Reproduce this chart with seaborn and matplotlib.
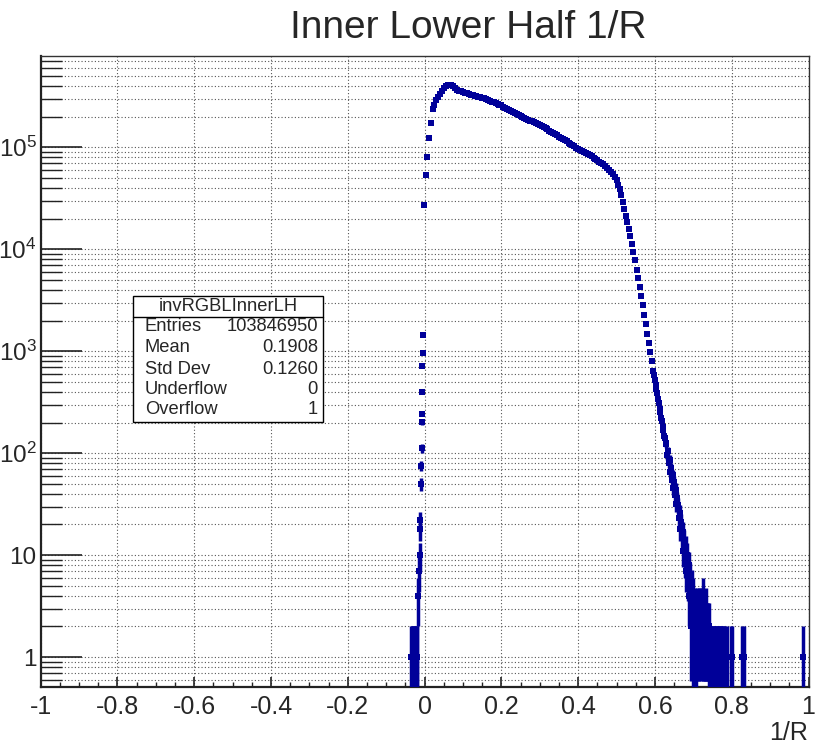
import numpy as np
import pandas as pd
import matplotlib
matplotlib.use("Agg")
import matplotlib.pyplot as plt
from matplotlib.patches import Rectangle
from matplotlib.lines import Line2D
import seaborn as sns

# ---- histogram contents: bin centre (1/R) and entries ----
x_rise = [-0.035, -0.033, -0.031, -0.029, -0.027, -0.025, -0.023, -0.021, -0.019,
          -0.017, -0.015, -0.013, -0.012, -0.011, -0.010, -0.009, -0.008, -0.0075,
          -0.007, -0.006, -0.0055, -0.005, -0.004, -0.002, 0.0026, 0.0068, 0.011,
          0.0156, 0.0216]
n_rise = [1, 1, 1, 1, 1, 1, 1, 1, 1,
          4, 7, 10, 18, 22, 50, 75, 112, 204,
          245, 400, 710, 970, 1450, 27000, 54000, 81000, 123000,
          172000, 236000]

x_body = [0.025, 0.030, 0.035, 0.040, 0.045, 0.050, 0.055, 0.060, 0.065, 0.070,
          0.075, 0.080, 0.085, 0.090, 0.095, 0.100, 0.105, 0.110, 0.115, 0.120,
          0.125, 0.130, 0.135, 0.140, 0.145, 0.150, 0.155, 0.160, 0.165, 0.170,
          0.175, 0.180, 0.185, 0.190, 0.195, 0.200, 0.205, 0.210, 0.215, 0.220,
          0.225, 0.230, 0.235, 0.240, 0.245, 0.250, 0.255, 0.260, 0.265, 0.270,
          0.275, 0.280, 0.285, 0.290, 0.295, 0.300, 0.305, 0.310, 0.315, 0.320,
          0.325, 0.330, 0.335, 0.340, 0.345, 0.350, 0.355, 0.360, 0.365, 0.370,
          0.375, 0.380, 0.385, 0.390, 0.395, 0.400, 0.405, 0.410, 0.415, 0.420,
          0.425, 0.430, 0.435, 0.440, 0.445, 0.450, 0.455, 0.460, 0.465, 0.470,
          0.475, 0.480, 0.485, 0.490, 0.495, 0.500, 0.505]
n_body = [257000, 288000, 309000, 331000, 355000, 380000, 398000, 407000, 412000, 407000,
          398000, 380000, 367000, 359000, 355000, 347000, 343000, 339000, 331000, 327000,
          324000, 320000, 316000, 313000, 309000, 305000, 301000, 295000, 290000, 285000,
          281000, 275000, 270000, 266000, 262000, 257000, 251000, 245000, 240000, 234000,
          226000, 221000, 216000, 211000, 207000, 202000, 198000, 195000, 191000, 186000,
          183000, 179000, 175000, 172000, 168000, 164000, 160000, 157000, 153000, 150000,
          146000, 142000, 138000, 134000, 131000, 127000, 124000, 121000, 117000, 114000,
          111000, 108000, 105000, 102000, 98900, 96200, 94000, 91600, 89500, 87500,
          85500, 83400, 81300, 79100, 76900, 74500, 72400, 70100, 67900, 65800,
          63100, 60300, 57500, 55000, 51300, 47900, 42700]

x_fall = [0.508, 0.512, 0.516, 0.520, 0.524, 0.528, 0.532, 0.536, 0.540, 0.544,
          0.548, 0.552, 0.556, 0.560, 0.564, 0.568, 0.572, 0.576, 0.580, 0.584,
          0.588, 0.592, 0.596, 0.598, 0.600, 0.602, 0.604, 0.606, 0.608, 0.610,
          0.612, 0.614, 0.616, 0.618, 0.620, 0.622, 0.624, 0.626, 0.628, 0.630,
          0.632, 0.634, 0.636, 0.638, 0.640, 0.642, 0.644, 0.646, 0.648, 0.650,
          0.652, 0.654, 0.656, 0.658]
n_fall = [38900, 33900, 28800, 25100, 21400, 18600, 15800, 13500, 11200, 9330,
          7760, 6310, 5250, 4270, 3470, 2820, 2290, 1860, 1480, 1200,
          977, 794, 646, 590, 525, 470, 430, 392, 340, 312,
          270, 251, 219, 205, 180, 170, 146, 140, 123, 125,
          96, 104, 80, 86, 66, 72, 55, 61, 46, 52,
          39, 44, 32, 36]

x_tail = [0.660, 0.662, 0.664, 0.666, 0.668, 0.670, 0.672, 0.674, 0.676, 0.678,
          0.680, 0.682, 0.684, 0.686, 0.688, 0.690, 0.692, 0.694, 0.696, 0.698,
          0.700, 0.702, 0.704, 0.706, 0.708, 0.710, 0.712, 0.714, 0.716, 0.718,
          0.720, 0.722, 0.724, 0.726, 0.728, 0.730, 0.732, 0.734, 0.736, 0.738,
          0.740, 0.742, 0.744, 0.746, 0.748, 0.750, 0.752, 0.754, 0.756, 0.758,
          0.760, 0.762, 0.764, 0.766, 0.768, 0.770, 0.772, 0.774, 0.776, 0.778,
          0.783, 0.787, 0.798, 0.801, 0.828, 0.831, 0.985]
n_tail = [31, 23, 26, 18, 21, 15, 17, 11, 14, 9,
          12, 7, 10, 6, 8, 4, 6, 2, 5, 1,
          4, 1, 3, 2, 1, 3, 2, 3, 2, 3,
          2, 3, 2, 4, 2, 2, 3, 2, 2, 2,
          1, 2, 1, 1, 1, 1, 1, 1, 1, 1,
          1, 1, 1, 1, 1, 1, 1, 1, 1, 1,
          1, 1, 1, 1, 1, 1, 1]

bin_width = 0.002

stats_title = "invRGBLInnerLH"
stats_names = ["Entries", "Mean", "Std Dev", "Underflow", "Overflow"]
stats_values = ["103846950", "0.1908", "0.1260", "0", "1"]

x_ticks = [-1, -0.8, -0.6, -0.4, -0.2, 0, 0.2, 0.4, 0.6, 0.8, 1]
x_ticklabels = ["-1", "-0.8", "-0.6", "-0.4", "-0.2", "0", "0.2", "0.4", "0.6", "0.8", "1"]
y_ticks = [1, 10, 100, 1000, 10000, 100000]
y_ticklabels = ["1", "10", r"$\mathregular{10^{2}}$", r"$\mathregular{10^{3}}$",
                r"$\mathregular{10^{4}}$", r"$\mathregular{10^{5}}$"]

# ---- assemble ----
hist = pd.DataFrame({
    "x": np.concatenate([x_rise, x_body, x_fall, x_tail]),
    "n": np.concatenate([n_rise, n_body, n_fall, n_tail]).astype(float),
})
ymin, ymax = 0.51, 7.85e5
err = np.sqrt(hist["n"].to_numpy())
low = hist["n"].to_numpy() - np.maximum(hist["n"].to_numpy() - err, 0.3)

sns.set_style("white")
plt.rcParams["font.family"] = ["Liberation Sans", "DejaVu Sans"]
plt.rcParams["mathtext.fontset"] = "custom"
plt.rcParams["mathtext.rm"] = "Liberation Sans"

fig = plt.figure(figsize=(8.17, 7.46), dpi=100)
ax = fig.add_axes([0.0498, 0.0791, 0.9398, 0.8458])
ax.set_yscale("log")
ax.set_xlim(-1, 1)
ax.set_ylim(ymin, ymax)

hist_color = "#000099"
ax.errorbar(hist["x"], hist["n"], xerr=bin_width / 2, yerr=[low, err],
            fmt="none", ecolor=hist_color, elinewidth=2.5, capsize=0, zorder=3)
sns.scatterplot(data=hist, x="x", y="n", ax=ax, marker="s", s=13, color=hist_color,
                edgecolor=hist_color, linewidth=0, zorder=4, legend=False)

# grid: major x, every decade step on y
grid_kw = dict(color="#555555", linestyle=(0, (1, 2)), linewidth=0.8)
ax.set_xticks(x_ticks)
ax.set_xticklabels(x_ticklabels)
ax.set_xticks(np.arange(-1, 1.0001, 0.05), minor=True)
ax.set_yticks(y_ticks)
ax.set_yticklabels(y_ticklabels)
ax.yaxis.set_minor_locator(matplotlib.ticker.LogLocator(base=10, subs=np.arange(2, 10)))
ax.yaxis.set_minor_formatter(matplotlib.ticker.NullFormatter())
ax.grid(True, which="major", axis="x", **grid_kw)
ax.grid(True, which="both", axis="y", **grid_kw)
ax.set_axisbelow(True)

ax.tick_params(axis="x", which="major", direction="in", length=7.2, width=1.2,
               labelsize=18, pad=6, bottom=True, top=False, color="#222222")
ax.tick_params(axis="x", which="minor", direction="in", length=3.6, width=1.0,
               bottom=True, top=False, color="#222222")
ax.tick_params(axis="y", which="major", direction="in", length=29.5, width=1.2,
               labelsize=17.5, pad=3, left=True, right=False, color="#222222")
ax.tick_params(axis="y", which="minor", direction="in", length=15, width=1.0,
               left=True, right=False, color="#222222")
for side in ["left", "bottom"]:
    ax.spines[side].set_linewidth(1.6)
    ax.spines[side].set_color("#222222")
for side in ["top", "right"]:
    ax.spines[side].set_linewidth(1.0)
    ax.spines[side].set_color("#333333")
ax.set_xlabel("")
ax.set_ylabel("")

fig.text(0.573, 0.962, "Inner Lower Half 1/R", ha="center", va="center", fontsize=28)
fig.text(0.989, 0.017, "1/R", ha="right", va="center", fontsize=18)

# statistics box
bx0, bx1 = 133 / 817, 323 / 817
by0, by1 = 1 - 421.5 / 746, 1 - 295.5 / 746
fig.patches.append(Rectangle((bx0, by0), bx1 - bx0, by1 - by0, transform=fig.transFigure,
                             facecolor="white", edgecolor="black", linewidth=1.0, zorder=10))
sep_y = 1 - 316.5 / 746
fig.lines.append(Line2D([bx0, bx1], [sep_y, sep_y], transform=fig.transFigure,
                        color="black", linewidth=1.0, zorder=11))
fig.text((bx0 + bx1) / 2, 1 - 306 / 746, stats_title, ha="center", va="center",
         fontsize=13.2, zorder=12)
row_y = [327, 348, 369, 389.5, 410]
for name, val, yy in zip(stats_names, stats_values, row_y):
    fig.text(145 / 817, 1 - yy / 746, name, ha="left", va="center", fontsize=13.2, zorder=12)
    fig.text(318 / 817, 1 - yy / 746, val, ha="right", va="center", fontsize=13.2, zorder=12)

fig.savefig("out.png", dpi=100, facecolor="white")
